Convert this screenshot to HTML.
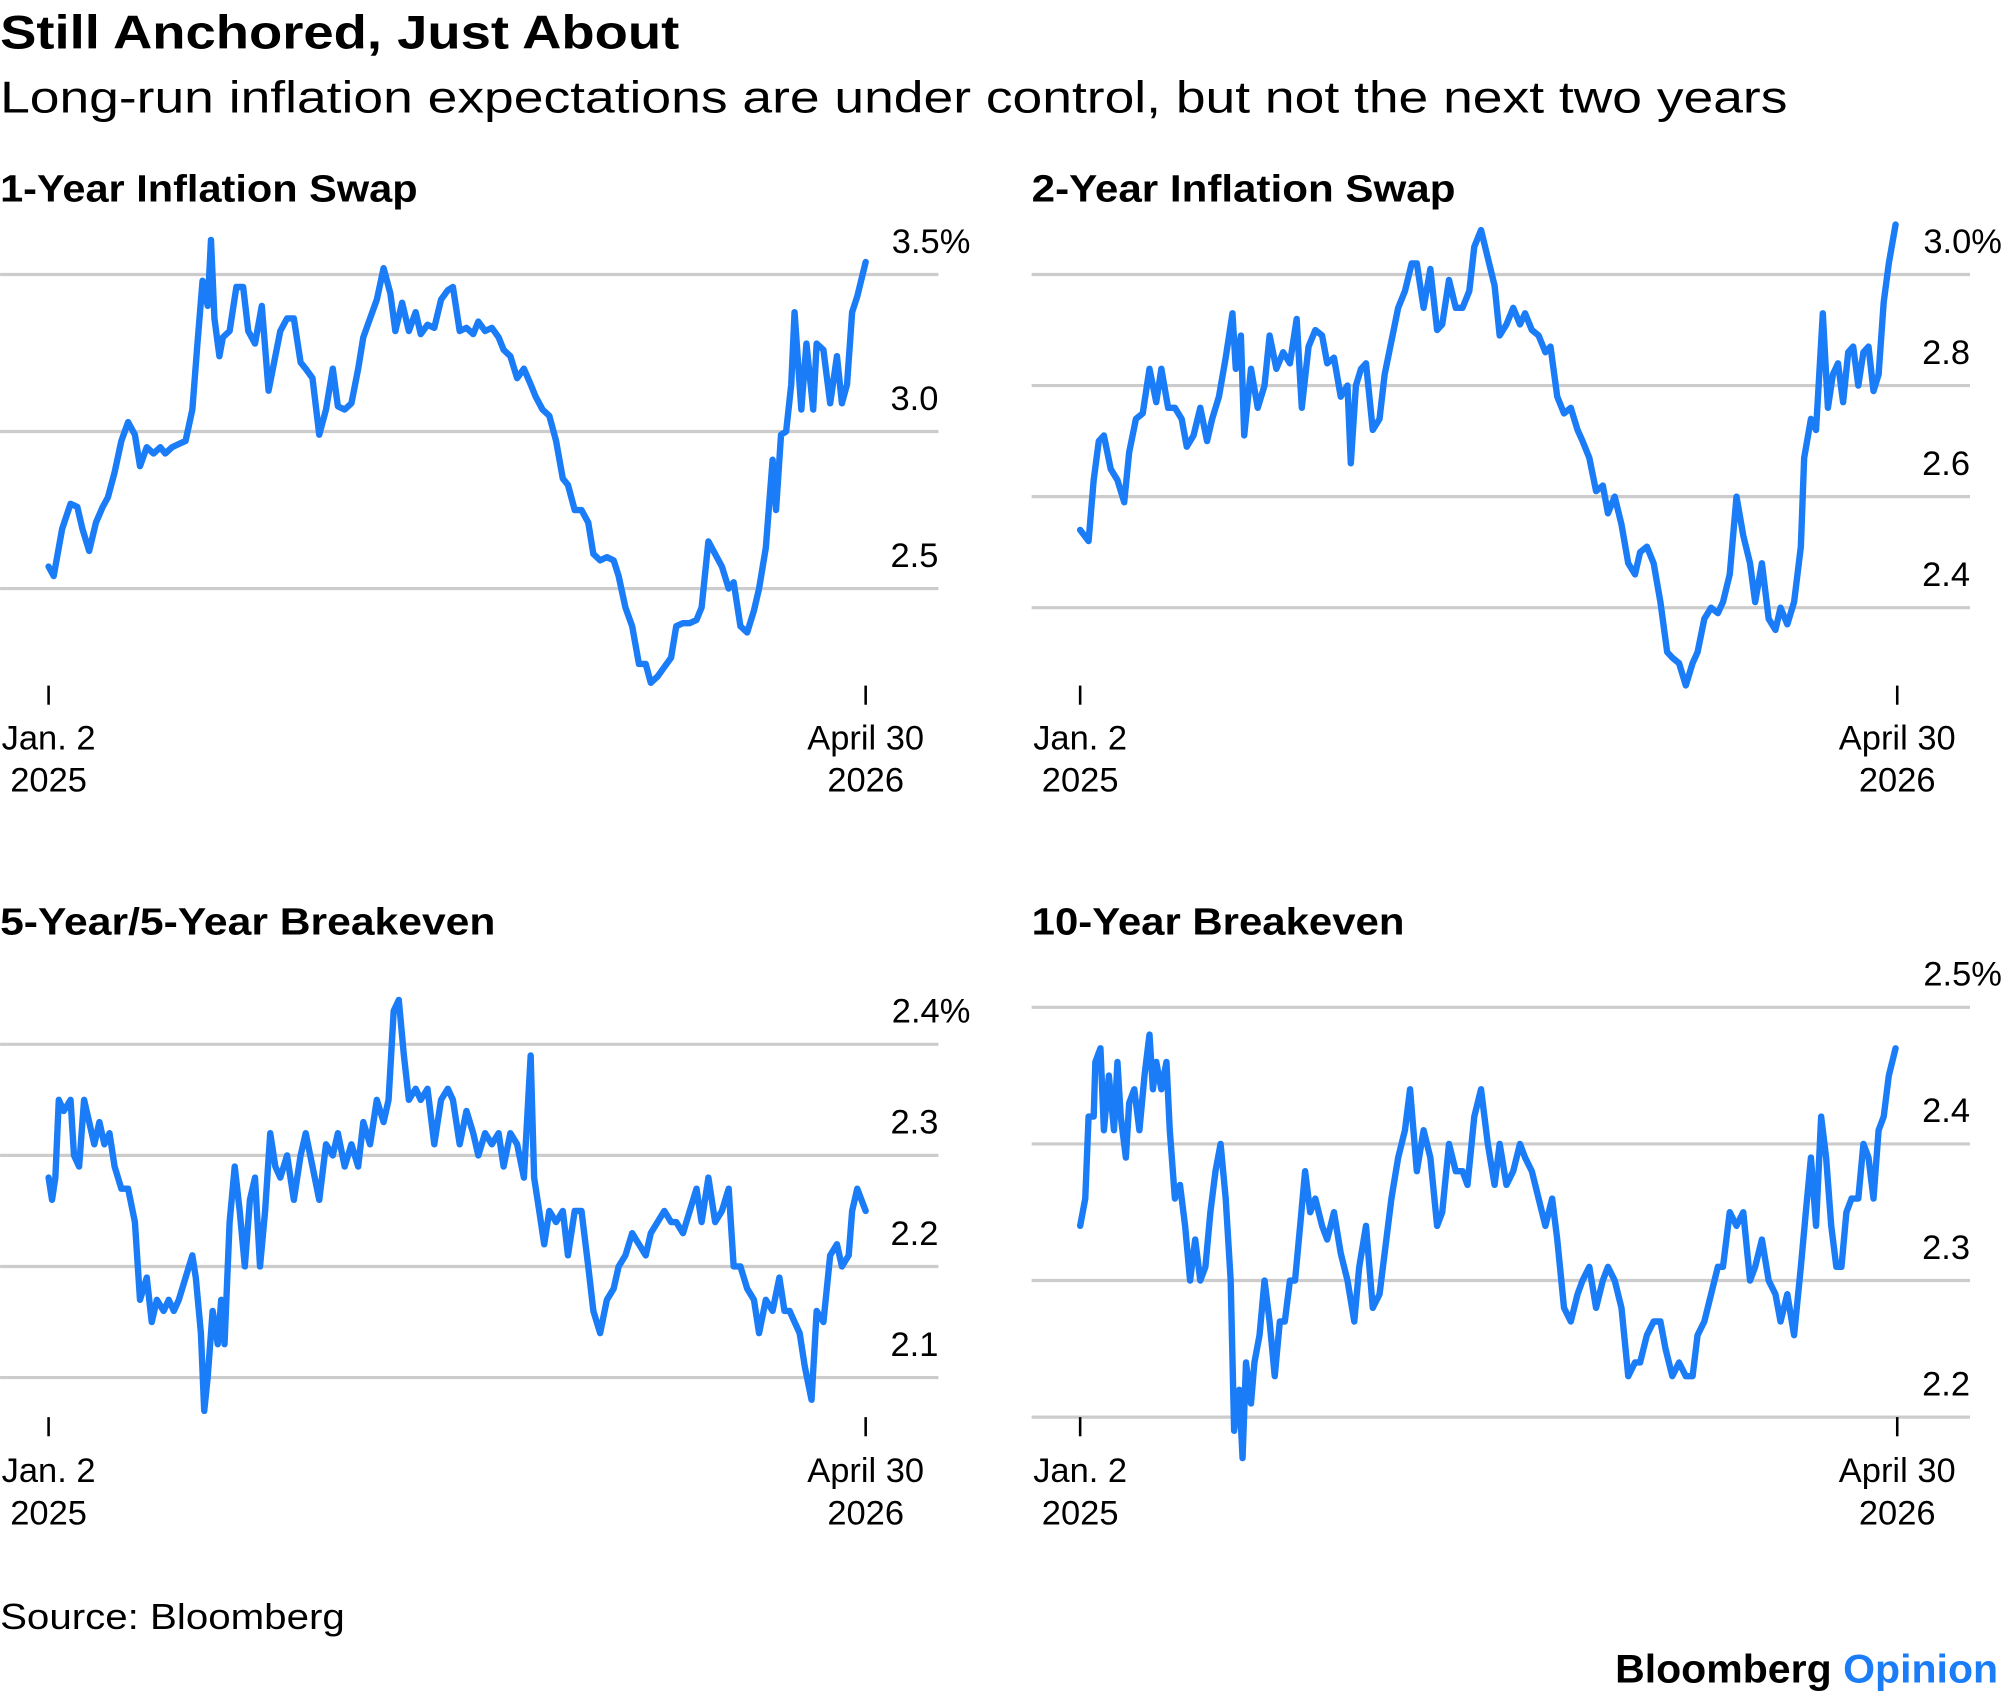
<!DOCTYPE html>
<html><head><meta charset="utf-8"><style>
html,body{margin:0;padding:0;background:#fff}
svg{display:block}
text{font-family:"Liberation Sans",Arial,sans-serif;fill:#000}
</style></head><body>
<svg id="chart" width="2002" height="1698" viewBox="0 0 1568 1330" xmlns="http://www.w3.org/2000/svg">
<text x="0" y="38" font-size="37" font-weight="bold" textLength="532" lengthAdjust="spacingAndGlyphs">Still Anchored, Just About</text>
<text x="0" y="88" font-size="35" textLength="1400" lengthAdjust="spacingAndGlyphs">Long-run inflation expectations are under control, but not the next two years</text>
<text x="0" y="1276" font-size="28" textLength="270" lengthAdjust="spacingAndGlyphs">Source: Bloomberg</text>
<text x="1565" y="1318" font-size="31" font-weight="bold" text-anchor="end" textLength="300" lengthAdjust="spacingAndGlyphs">Bloomberg <tspan fill="#1b7cf7">Opinion</tspan></text>
<g id="panels"></g>
</svg>
<script>
const dateLabels = [["Jan. 2","2025"],["April 30","2026"]];
const totalDays = 483;

const p1Days = [0,3,8,13,17,20,24,28,32,35,39,43,47,51,54,58,62,66,69,73,77,81,85,88,91,94,96,98,101,103,107,111,115,118,122,126,130,134,137,141,145,149,152,156,160,164,168,171,175,179,183,186,190,194,198,202,205,209,213,217,220,224,228,232,236,239,243,247,251,254,258,262,266,269,273,277,281,285,288,292,296,300,304,307,311,315,319,322,326,330,334,337,341,345,349,353,356,360,364,368,371,375,379,383,386,390,394,398,402,405,409,413,417,420,424,428,430,433,436,439,441,445,448,452,454,458,462,466,469,472,475,478,483];
const p1Vals = [2.57,2.54,2.69,2.77,2.76,2.69,2.62,2.71,2.76,2.79,2.87,2.97,3.03,2.99,2.89,2.95,2.93,2.95,2.93,2.95,2.96,2.97,3.07,3.28,3.48,3.40,3.61,3.36,3.24,3.30,3.32,3.46,3.46,3.32,3.28,3.40,3.13,3.24,3.32,3.36,3.36,3.22,3.20,3.17,2.99,3.07,3.20,3.08,3.07,3.09,3.20,3.30,3.36,3.42,3.52,3.44,3.32,3.41,3.32,3.38,3.31,3.34,3.33,3.42,3.45,3.46,3.32,3.33,3.31,3.35,3.32,3.33,3.30,3.26,3.24,3.17,3.20,3.15,3.11,3.07,3.05,2.97,2.85,2.83,2.75,2.75,2.71,2.61,2.59,2.60,2.59,2.54,2.44,2.38,2.26,2.26,2.20,2.22,2.25,2.28,2.38,2.39,2.39,2.40,2.44,2.65,2.61,2.57,2.50,2.52,2.38,2.36,2.43,2.50,2.63,2.91,2.75,2.99,3.00,3.15,3.38,3.07,3.28,3.07,3.28,3.26,3.09,3.24,3.09,3.15,3.38,3.43,3.54];
const p1Ticks = [3.5,3.0,2.5];

const p2Days = [0,5,8,11,14,18,22,26,29,33,37,41,45,48,52,56,60,63,67,71,75,78,82,86,90,92,95,97,101,105,109,112,116,120,124,128,131,135,139,143,146,150,154,158,160,163,166,169,173,177,180,184,188,192,196,199,203,207,211,214,218,222,226,230,233,237,241,245,248,252,256,260,263,267,271,275,278,282,286,290,294,297,301,305,309,312,316,320,324,328,331,335,339,343,347,350,354,358,362,365,369,373,377,380,384,388,392,396,399,403,407,411,414,418,422,426,428,432,435,439,442,445,448,451,454,457,460,463,466,469,472,475,478,482];
const p2Vals = [2.54,2.52,2.63,2.70,2.71,2.65,2.63,2.59,2.68,2.74,2.75,2.83,2.77,2.83,2.76,2.76,2.74,2.69,2.71,2.76,2.70,2.74,2.78,2.85,2.93,2.83,2.89,2.71,2.83,2.76,2.80,2.89,2.83,2.86,2.84,2.92,2.76,2.87,2.90,2.89,2.84,2.85,2.78,2.80,2.66,2.80,2.83,2.84,2.72,2.74,2.82,2.88,2.94,2.97,3.02,3.02,2.94,3.01,2.90,2.91,2.99,2.94,2.94,2.97,3.05,3.08,3.03,2.98,2.89,2.91,2.94,2.91,2.93,2.90,2.89,2.86,2.87,2.78,2.75,2.76,2.72,2.70,2.67,2.61,2.62,2.57,2.60,2.55,2.48,2.46,2.50,2.51,2.48,2.41,2.32,2.31,2.30,2.26,2.30,2.32,2.38,2.40,2.39,2.41,2.46,2.60,2.53,2.48,2.41,2.48,2.38,2.36,2.40,2.37,2.41,2.51,2.67,2.74,2.72,2.93,2.76,2.82,2.84,2.77,2.86,2.87,2.80,2.86,2.87,2.79,2.82,2.95,3.02,3.09];
const p2Ticks = [3.0,2.8,2.6,2.4];

const p3Days = [0,2,4,6,9,13,15,18,21,24,27,30,33,36,39,43,47,51,54,58,61,64,68,71,74,77,81,85,87,90,92,94,97,100,102,104,107,110,113,116,119,122,125,128,131,134,137,141,145,149,152,156,160,164,168,171,175,179,183,186,190,194,198,201,204,207,210,213,217,220,224,228,232,236,239,243,247,251,254,258,262,266,269,273,277,281,285,287,290,293,296,300,304,307,311,315,319,322,326,330,334,337,341,345,349,353,356,360,364,368,371,375,379,383,386,390,394,398,402,405,409,413,417,420,424,428,432,435,438,441,444,447,451,454,458,462,466,469,473,475,478,483];
const p3Vals = [2.28,2.26,2.28,2.35,2.34,2.35,2.30,2.29,2.35,2.33,2.31,2.33,2.31,2.32,2.29,2.27,2.27,2.24,2.17,2.19,2.15,2.17,2.16,2.17,2.16,2.17,2.19,2.21,2.19,2.14,2.07,2.10,2.16,2.13,2.17,2.13,2.24,2.29,2.25,2.20,2.26,2.28,2.20,2.25,2.32,2.29,2.28,2.30,2.26,2.30,2.32,2.29,2.26,2.31,2.30,2.32,2.29,2.31,2.29,2.33,2.31,2.35,2.33,2.35,2.43,2.44,2.39,2.35,2.36,2.35,2.36,2.31,2.35,2.36,2.35,2.31,2.34,2.32,2.30,2.32,2.31,2.32,2.29,2.32,2.31,2.28,2.39,2.28,2.25,2.22,2.25,2.24,2.25,2.21,2.25,2.25,2.20,2.16,2.14,2.17,2.18,2.20,2.21,2.23,2.22,2.21,2.23,2.24,2.25,2.24,2.24,2.23,2.25,2.27,2.24,2.28,2.24,2.25,2.27,2.20,2.20,2.18,2.17,2.14,2.17,2.16,2.19,2.16,2.16,2.15,2.14,2.11,2.08,2.16,2.15,2.21,2.22,2.20,2.21,2.25,2.27,2.25];
const p3Ticks = [2.4,2.3,2.2,2.1];

const p4Days = [0,3,5,8,9,12,14,17,20,22,24,27,29,32,35,38,41,43,45,48,51,53,56,59,62,65,68,71,74,77,80,83,86,89,91,94,96,98,101,103,106,109,112,115,118,121,124,127,130,133,136,139,143,146,150,154,158,162,165,169,173,177,180,184,188,192,195,199,203,207,211,214,218,222,226,229,233,237,241,245,248,252,256,260,263,267,271,275,279,282,286,290,294,297,301,305,309,312,316,320,324,328,331,335,339,343,346,350,354,358,362,365,369,373,377,380,384,388,392,396,399,403,407,411,414,418,422,426,429,432,435,438,441,444,447,450,453,456,460,463,466,469,472,475,478,482];
const p4Vals = [2.34,2.36,2.42,2.42,2.46,2.47,2.41,2.45,2.41,2.46,2.42,2.39,2.43,2.44,2.41,2.45,2.48,2.44,2.46,2.44,2.46,2.41,2.36,2.37,2.34,2.30,2.33,2.30,2.31,2.35,2.38,2.40,2.36,2.30,2.19,2.22,2.17,2.24,2.21,2.24,2.26,2.30,2.27,2.23,2.27,2.27,2.30,2.30,2.34,2.38,2.35,2.36,2.34,2.33,2.35,2.32,2.30,2.27,2.31,2.34,2.28,2.29,2.32,2.36,2.39,2.41,2.44,2.38,2.41,2.39,2.34,2.35,2.40,2.38,2.38,2.37,2.42,2.44,2.40,2.37,2.40,2.37,2.38,2.40,2.39,2.38,2.36,2.34,2.36,2.33,2.28,2.27,2.29,2.30,2.31,2.28,2.30,2.31,2.30,2.28,2.23,2.24,2.24,2.26,2.27,2.27,2.25,2.23,2.24,2.23,2.23,2.26,2.27,2.29,2.31,2.31,2.35,2.34,2.35,2.30,2.31,2.33,2.30,2.29,2.27,2.29,2.26,2.31,2.35,2.39,2.34,2.42,2.39,2.34,2.31,2.31,2.35,2.36,2.36,2.40,2.39,2.36,2.41,2.42,2.45,2.47];
const p4Ticks = [2.5,2.4,2.3,2.2];

const panels = [
  {name:"1-year-inflation-swap", title:"1-Year Inflation Swap", tw:327, days:p1Days, vals:p1Vals, ticks:p1Ticks, ox:0, titleY:158, yTop:215, yBot:461, tickY:537, dateY:587},
  {name:"2-year-inflation-swap", title:"2-Year Inflation Swap", tw:332, days:p2Days, vals:p2Vals, ticks:p2Ticks, ox:808, titleY:158, yTop:215, yBot:476, tickY:537, dateY:587},
  {name:"5y5y-breakeven", title:"5-Year/5-Year Breakeven", tw:388, days:p3Days, vals:p3Vals, ticks:p3Ticks, ox:0, titleY:732, yTop:818, yBot:1079, tickY:1110, dateY:1161},
  {name:"10-year-breakeven", title:"10-Year Breakeven", tw:292, days:p4Days, vals:p4Vals, ticks:p4Ticks, ox:808, titleY:732, yTop:789, yBot:1110, tickY:1110, dateY:1161}
];

const NS = "http://www.w3.org/2000/svg";
const root = document.getElementById("panels");
function mk(tag, attrs, parent){
  const e = document.createElementNS(NS, tag);
  for (const k in attrs) e.setAttribute(k, attrs[k]);
  parent.appendChild(e); return e;
}
panels.forEach(p => {
  const g = mk("g", {}, root);
  
  
  const t = mk("text", {x:p.ox, y:p.titleY, "font-size":30, "font-weight":"bold", textLength:p.tw, lengthAdjust:"spacingAndGlyphs"}, g);
  t.textContent = p.title;
  
  
  const x0 = p.ox + 38, x1 = p.ox + 678;
  const xs = d => x0 + (d / totalDays) * (x1 - x0);
  const tMax = p.ticks[0], tMin = p.ticks[p.ticks.length-1];
  const ys = v => p.yTop + (tMax - v) / (tMax - tMin) * (p.yBot - p.yTop);
  p.ticks.forEach((tv, i) => {
    const y = ys(tv);
    const gl = mk("line", {x1:p.ox, x2:p.ox+735, y1:y, y2:y, stroke:"#cccccc", "stroke-width":2.5}, g);
    
    
    const lab = mk("text", {x: i===0 ? p.ox+760 : p.ox+735, y:y-17, "font-size":27, "text-anchor":"end"}, g);
    lab.textContent = tv.toFixed(1) + (i===0 ? "%" : "");
    
    
  });
  [x0, x1].forEach((x, i) => {
    const tk = mk("line", {x1:x, x2:x, y1:p.tickY, y2:p.tickY+15, stroke:"#000", "stroke-width":2}, g);
    
    
    dateLabels[i].forEach((s, j) => {
      const dl = mk("text", {x:x, y:p.dateY + j*33, "font-size":27, "text-anchor":"middle"}, g);
      dl.textContent = s;
      
      
    });
  });
  const d = p.days.map((dd, i) => (i ? "L" : "M") + xs(dd).toFixed(1) + "," + ys(p.vals[i]).toFixed(1)).join("");
  const path = mk("path", {d:d, fill:"none", stroke:"#1b7cf7", "stroke-width":5, "stroke-linejoin":"round", "stroke-linecap":"round"}, g);
  
  
});
</script>
</body></html>
